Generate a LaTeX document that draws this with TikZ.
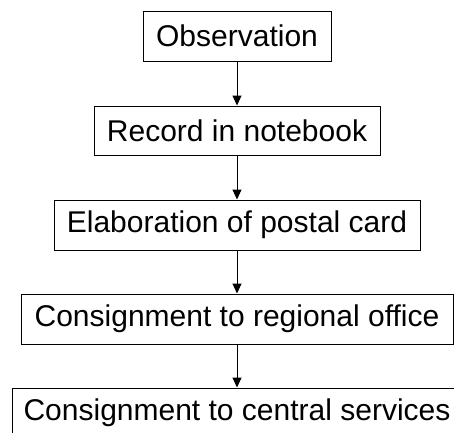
\documentclass[tikz,border=0pt]{standalone}
\usepackage{fontspec}
\setmainfont{Liberation Sans}
\usetikzlibrary{arrows.meta}
\begin{document}
\begin{tikzpicture}[x=1pt,y=-1pt,
  box/.style={draw,line width=1pt,inner sep=0pt,minimum height=50pt,font=\fontsize{30}{36}\selectfont,anchor=center},
  conn/.style={line width=1pt,-{Triangle[width=9pt,length=10pt]}}]
\useasboundingbox (0,0) rectangle (454,432);
\clip (0,0) rectangle (454,432);
\fill[white] (0,0) rectangle (454,432);
\node[box,minimum width=188pt] (a) at (237,36) {Observation};
\node[box,minimum width=286pt,minimum height=49pt] (b) at (237,130.5) {Record in notebook};
\node[box,minimum width=366pt] (c) at (237,225) {Elaboration of postal card};
\node[box,minimum width=432pt] (d) at (237,319) {Consignment to regional office};
\node[box,minimum width=450pt] (e) at (237,413) {Consignment to central services};
\draw[conn] (a.south) -- (b.north);
\draw[conn] (b.south) -- (c.north);
\draw[conn] (c.south) -- (d.north);
\draw[conn] (d.south) -- (e.north);
\end{tikzpicture}
\end{document}
